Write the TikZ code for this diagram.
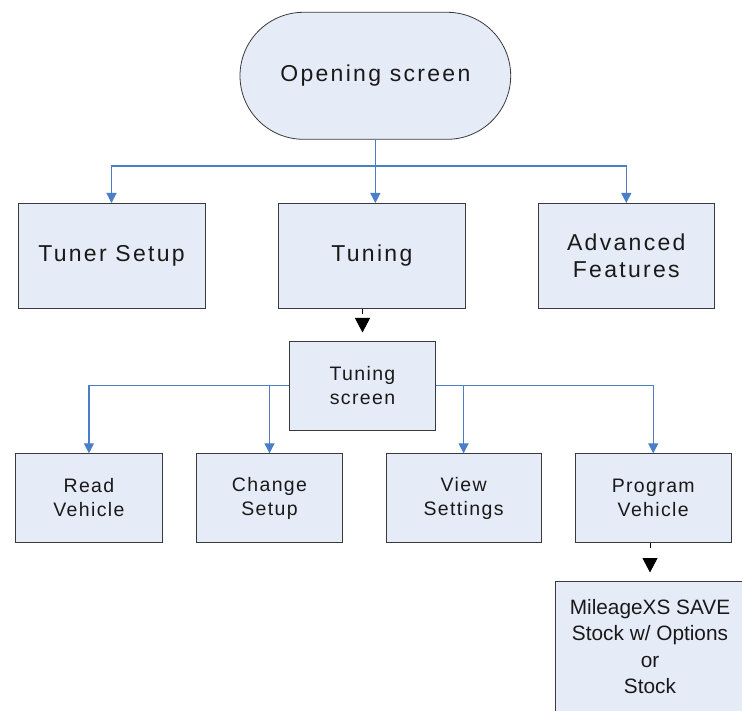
\documentclass[tikz,border=0pt]{standalone}
\usepackage{fontspec}
\setmainfont{Liberation Sans}
\newfontfamily\widefont[LetterSpace=10]{Liberation Sans}
\newfontfamily\subfont[LetterSpace=7]{Liberation Sans}
\usetikzlibrary{arrows.meta,positioning,shapes.misc}
\definecolor{boxfill}{HTML}{E6ECF7}
\definecolor{linkblue}{HTML}{4A7EC8}
\definecolor{edgegray}{HTML}{3A3A3A}
\tikzset{
  screen/.style   = {draw=edgegray, fill=boxfill, line width=0.8pt, inner sep=0pt,
                     outer sep=0pt, align=center, text=black!90},
  start/.style    = {screen, rounded rectangle, minimum width=270.7pt, minimum height=127pt,
                     font=\widefont\fontsize{23}{27.7}\selectfont},
  menu/.style     = {screen, minimum height=105.7pt, font=\widefont\fontsize{23}{27.7}\selectfont},
  item/.style     = {screen, minimum height=89.4pt, font=\subfont\fontsize{19.5}{24}\selectfont},
  result/.style   = {screen, minimum width=190pt, minimum height=131pt,
                     font=\fontsize{20.8}{26.5}\selectfont},
  link/.style     = {linkblue, line width=1.1pt, -{Triangle[width=10pt,length=10pt]}},
  pushdown/.style = {black, line width=1pt, dash pattern=on 5pt off 30pt, shorten >=8.5pt,
                     -{Triangle[width=15pt,length=14.5pt]}}
}
\begin{document}
\begin{tikzpicture}[x=1pt, y=-1pt]
  \clip (0,0) rectangle (742,711);
  \fill[white] (0,0) rectangle (742,711);

  \node[start] (open) at (375.35,75.8) {Opening screen};

  \node[menu, minimum width=187pt]   (tuner)  at (111.5,255.85) {Tuner Setup};
  \node[menu, minimum width=187.7pt] (tuning) at (371.85,255.85) {Tuning};
  \node[menu, minimum width=176.6pt] (adv)    at (626.3,255.85) {Advanced\\Features};

  \node[item, minimum width=146.4pt, minimum height=89.7pt] (tscreen) at (362.5,385.85) {Tuning\\screen};

  \node[item, minimum width=146.7pt] (read)    at (88.95,498) {Read\\Vehicle};
  \node[item, minimum width=146.2pt] (change)  at (269.5,498) {Change\\Setup};
  \node[item, minimum width=154.8pt] (view)    at (463.6,498) {View\\Settings};
  \node[item, minimum width=155.5pt] (program) at (653.25,498) {Program\\Vehicle};

  \node[result] (mileage) at (650,646.5) {MileageXS SAVE\\Stock w/ Options\\or\\Stock};

  % opening screen to the three menus
  \draw[link] (open.south) -- ++(0,26.7) -| (tuner.north);
  \draw[link] (open.south) -- ++(0,26.7) -| (adv.north);
  \draw[link] (open.south) -- (open.south |- tuning.north);

  % tuning screen to its items
  \draw[link] (tscreen.west) -| (read.north);
  \draw[link] (tscreen.west) -| (change.north);
  \draw[link] (tscreen.east) -| (view.north);
  \draw[link] (tscreen.east) -| (program.north);

  \draw[pushdown] (tscreen.north |- tuning.south) -- (tscreen.north);
  \draw[pushdown] (mileage.north |- program.south) -- (mileage.north);
\end{tikzpicture}
\end{document}
